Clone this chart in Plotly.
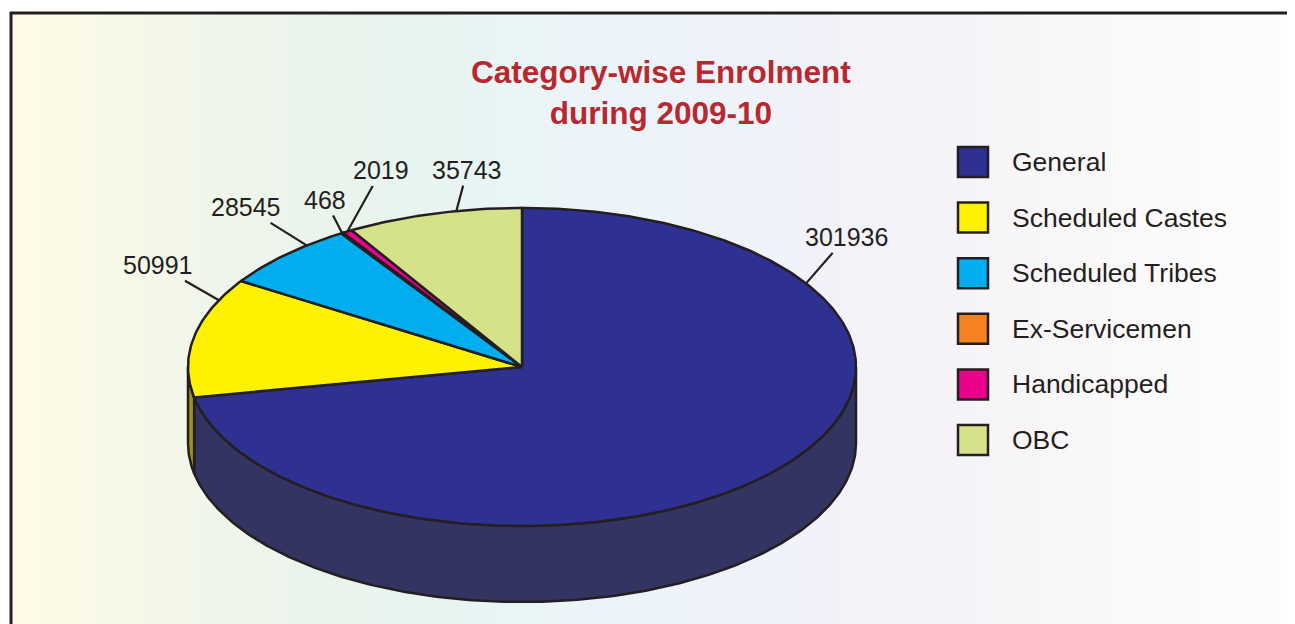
import numpy as np
import plotly.graph_objects as go

# ---------------- data ----------------
categories = ["General", "Scheduled Castes", "Scheduled Tribes", "Ex-Servicemen", "Handicapped", "OBC"]
enrolment = [301936, 50991, 28545, 468, 2019, 35743]
title_text = "Category-wise Enrolment<br>during 2009-10"

# ---------------- style / layout ----------------
top_colors = ["#2e3192", "#fff200", "#00aeef", "#f58220", "#ec008c", "#d5e28a"]
side_colors = ["#343463", "#9a921c", "#1f6f8f", "#8a4d1a", "#7a1450", "#7d8550"]
edge = "#231f20"
W, H = 1295, 624
OFF = 8  # page body margin
CX, CY, RX, RY, DEPTH = 522, 367, 334, 159, 76
FONT = "Liberation Sans, Arial, sans-serif"
# where on each slice's rim the leader line is attached (fraction of slice)
label_attach_frac = [0.225, 0.82, 0.70, 0.5, 0.5, 0.63]
# text offset (px) from attachment point
label_offset = [(40, -46), (-61, -35), (-61, -38), (-17, -33), (34, -61), (11, -41)]

LEG_X, LEG_Y0, LEG_DY = 973, 162, 55.6

fig = go.Figure()

# background gradient panel
bg_scale = [
    [0.00, "#fffbe6"], [0.07, "#f8f9e7"], [0.15, "#f1f6ea"], [0.23, "#ebf4ec"],
    [0.31, "#e8f4ef"], [0.38, "#e9f5f5"], [0.46, "#ecf4f9"], [0.54, "#eef3fa"],
    [0.70, "#f4f2f8"], [0.78, "#f8f5f8"], [0.86, "#fbf8fa"], [1.00, "#fdfdfb"],
]
fig.add_trace(go.Scatter(
    x=[11, 1291, 1291, 11, 11], y=[13, 13, H + 5, H + 5, 13],
    mode="lines", line=dict(width=0), fill="toself",
    fillgradient=dict(type="horizontal", colorscale=bg_scale),
    hoverinfo="skip", showlegend=False))

total = float(sum(enrolment))
fracs = [v / total for v in enrolment]
starts = np.concatenate([[0.0], np.cumsum(fracs)[:-1]]) * 360.0
ends = np.cumsum(fracs) * 360.0


def rim(theta_deg, dy=0.0):
    t = np.radians(theta_deg)
    return CX + RX * np.sin(t), CY - RY * np.cos(t) + dy


def arc(a, b):
    n = max(3, int(abs(b - a) * 1.5) + 2)
    return np.linspace(a, b, n)

# sides (visible front half 90..270 deg, clockwise from top)
for i in range(len(categories)):
    a, b = max(starts[i], 90.0), min(ends[i], 270.0)
    if b <= a:
        continue
    th = arc(a, b)
    xt, yt = rim(th)
    xb, yb = rim(th[::-1], DEPTH)
    xs = np.concatenate([xt, xb, xt[:1]])
    ys = np.concatenate([yt, yb, yt[:1]])
    fig.add_trace(go.Scatter(x=xs, y=ys, mode="lines", fill="toself",
                             fillcolor=side_colors[i], line=dict(color=edge, width=2.5),
                             hoverinfo="skip", showlegend=False))

# top face wedges
for i in range(len(categories)):
    th = arc(starts[i], ends[i])
    xr, yr = rim(th)
    xs = np.concatenate([[CX], xr, [CX]])
    ys = np.concatenate([[CY], yr, [CY]])
    fig.add_trace(go.Scatter(x=xs, y=ys, mode="lines", fill="toself",
                             fillcolor=top_colors[i], line=dict(color=edge, width=2.5),
                             name=categories[i], hoverinfo="name", showlegend=False))

# value labels with leader lines
for i, v in enumerate(enrolment):
    th = starts[i] + label_attach_frac[i] * (ends[i] - starts[i])
    px, py = rim(th)
    ax, ay = label_offset[i]
    fig.add_annotation(x=px, y=py, ax=ax, ay=ay, text=str(v), showarrow=True,
                       arrowhead=0, arrowwidth=2.2, arrowcolor=edge, standoff=0,
                       font=dict(family=FONT, size=25, color=edge), borderpad=1)

# legend (manual, squares + labels)
leg_y = [LEG_Y0 + LEG_DY * i for i in range(len(categories))]
fig.add_trace(go.Scatter(
    x=[LEG_X] * len(categories), y=leg_y, mode="markers",
    marker=dict(symbol="square", size=30, color=top_colors, line=dict(color=edge, width=2.5)),
    hoverinfo="skip", showlegend=False))
for i, c in enumerate(categories):
    fig.add_annotation(x=1010, y=leg_y[i], text=c, showarrow=False, xanchor="left",
                       yanchor="middle", font=dict(family=FONT, size=26.5, color=edge))

# title
fig.add_annotation(x=661, y=92, text="<b>" + title_text.replace("<br>", "</b><br><b>") + "</b>",
                   showarrow=False, xanchor="center", yanchor="middle",
                   font=dict(family=FONT, size=31.5, color="#b8282f"))

# frame
fig.add_shape(type="line", x0=10, x1=W + 5, y0=13, y1=13, line=dict(color=edge, width=3))
fig.add_shape(type="line", x0=11, x1=11, y0=12, y1=H + 5, line=dict(color=edge, width=3))

fig.update_layout(
    width=W - OFF, height=H - OFF, margin=dict(l=0, r=0, t=0, b=0),
    paper_bgcolor="white", plot_bgcolor="white",
    xaxis=dict(range=[OFF, W], visible=False, fixedrange=True),
    yaxis=dict(range=[H, OFF], visible=False, fixedrange=True),
    showlegend=False,
)
fig.write_html("out.html")
